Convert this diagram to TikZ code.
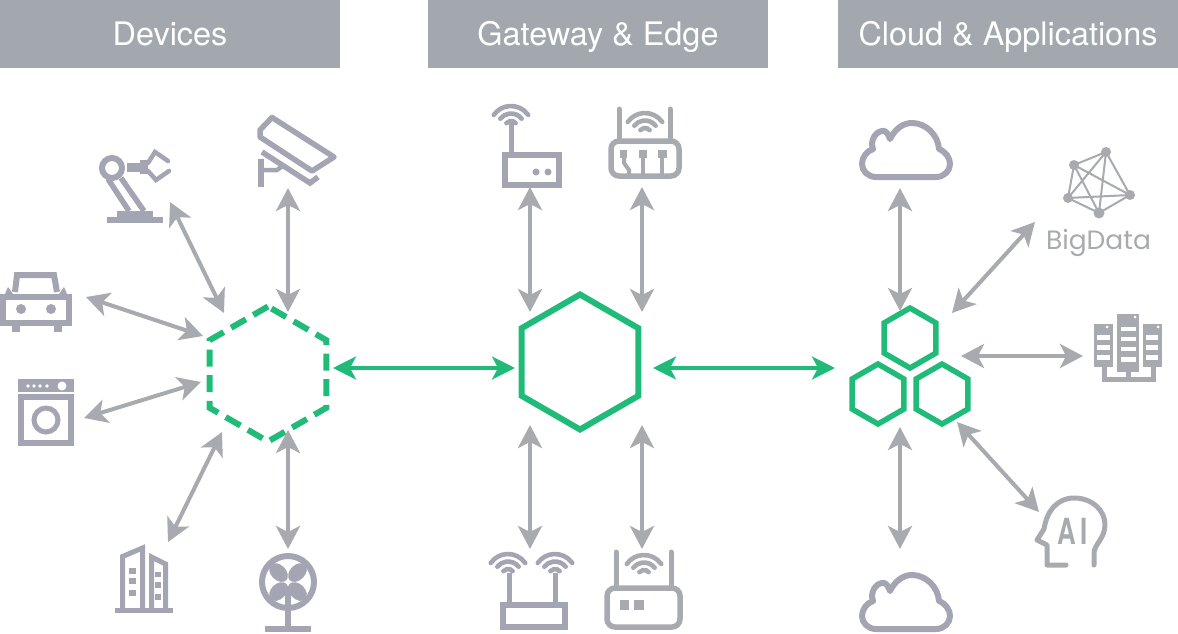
\documentclass[tikz,border=0pt]{standalone}
\usepackage{fontspec}
\setmainfont{TeX Gyre Heros}
\newfontfamily\labelfont{Poppins}
\usetikzlibrary{arrows.meta,shapes.geometric}
\definecolor{barGrey}{HTML}{A2A8AE}
\definecolor{iconBlue}{HTML}{A3A5B2}
\definecolor{iconGrey}{HTML}{A7ABAF}
\definecolor{hexGreen}{HTML}{20BB78}
\tikzset{
	header/.style={fill=barGrey, text=white, inner sep=0pt, outer sep=0pt, minimum height=68pt, text height=26pt, text depth=2pt, font=\fontsize{32.4}{36}\selectfont},
	hexnode/.style={regular polygon, regular polygon sides=6, shape border rotate=30, draw=hexGreen, inner sep=0pt, outer sep=0pt, miter limit=4},
	biarrow/.style={draw=iconGrey, line width=4pt, {Stealth[length=23pt,width=24pt,inset=6pt]}-{Stealth[length=23pt,width=24pt,inset=6pt]}},
	greenarrow/.style={draw=hexGreen, line width=3.6pt, {Stealth[length=23pt,width=23pt,inset=6pt]}-{Stealth[length=23pt,width=23pt,inset=6pt]}},
	blueline/.style={draw=iconBlue, line width=#1},
	blueline/.default=5pt,
	greyline/.style={draw=iconGrey, line width=#1},
	greyline/.default=5pt,
	wave/.style={line width=4.6pt, line cap=round},
	slot/.style={fill=white, draw=none}
}
% wifi waves, centre point and colour
\newcommand{\wifiwaves}[3]{
	\draw[wave, draw=#3] (#1, #2) ++(35:21 and -21) arc[start angle=-35, end angle=-145, radius=21];
	\draw[wave, draw=#3] (#1, #2) ++(38:13.5 and -13.5) arc[start angle=-38, end angle=-142, radius=13.5];
	\draw[wave, draw=#3] (#1, #2) ++(40:6 and -6) arc[start angle=-40, end angle=-140, radius=6];
}
% cloud outline, shifted downwards by the argument
\newcommand{\cloudicon}[1]{
	\draw[blueline=6pt, line join=round, yshift=-#1pt] (876,177) .. controls (868,177) and (862,171) .. (862,164)
		.. controls (862,157) and (867,151) .. (873,149)
		.. controls (870,141) and (875,132) .. (882,131)
		.. controls (885,130) and (888,133) .. (890,139)
		.. controls (895,129) and (903,123) .. (912,123)
		.. controls (926,123) and (938,135) .. (939,149)
		.. controls (946,152) and (950,158) .. (950,164)
		.. controls (950,171) and (944,177) .. (936,177) -- cycle;
}
\begin{document}
\begin{tikzpicture}[x=1pt, y=-1pt]
	\useasboundingbox (0, 0) rectangle (1178, 634);

	% Headers
	\node[header, minimum width=340pt] (devices) at (170, 34) {Devices};
	\node[header, minimum width=340pt] (gateway) at (598, 34) {Gateway \& Edge};
	\node[header, minimum width=340pt] (cloud) at (1008, 34) {Cloud \& Applications};

	% Hexagons
	\node[hexnode, line width=6pt, dashed, dash pattern=on 17pt off 8.6pt, minimum size=135pt] (hexDevice) at (268, 374) {};
	\node[hexnode, line width=6pt, minimum size=135pt] (hexGate) at (580, 362) {};
	\node[hexnode, line width=5.5pt, minimum size=60pt] (hexTop) at (910, 338) {};
	\node[hexnode, line width=5.5pt, minimum size=60pt] (hexLeft) at (878, 394) {};
	\node[hexnode, line width=5.5pt, minimum size=60pt] (hexRight) at (942, 394) {};

	% Arrow ends
	\coordinate (robotA) at (170, 202);
	\coordinate (robotB) at (224, 313);
	\coordinate (cameraA) at (288, 188);
	\coordinate (cameraB) at (288, 312);
	\coordinate (carA) at (86, 297);
	\coordinate (carB) at (203, 336);
	\coordinate (washerA) at (84, 418);
	\coordinate (washerB) at (201, 382);
	\coordinate (buildingA) at (168, 542);
	\coordinate (buildingB) at (222, 432);
	\coordinate (fanA) at (288, 549);
	\coordinate (fanB) at (288, 430);
	\coordinate (linkA) at (333, 368);
	\coordinate (linkB) at (515, 368);
	\coordinate (linkC) at (653, 368);
	\coordinate (linkD) at (835, 368);
	\coordinate (routerA) at (530, 187);
	\coordinate (routerB) at (530, 312);
	\coordinate (switchA) at (642, 187);
	\coordinate (switchB) at (642, 312);
	\coordinate (dualA) at (530, 549);
	\coordinate (dualB) at (530, 425);
	\coordinate (modemA) at (642, 549);
	\coordinate (modemB) at (642, 425);
	\coordinate (cloudA) at (900, 188);
	\coordinate (cloudB) at (900, 311);
	\coordinate (dataA) at (1035, 222);
	\coordinate (dataB) at (952, 313);
	\coordinate (serverA) at (1083, 356);
	\coordinate (serverB) at (961, 356);
	\coordinate (aiA) at (1039, 512);
	\coordinate (aiB) at (957, 422);
	\coordinate (lowerA) at (900, 549);
	\coordinate (lowerB) at (900, 427);

	% Arrows
	\draw[biarrow] (robotA) -- (robotB);
	\draw[biarrow] (cameraA) -- (cameraB);
	\draw[biarrow] (carA) -- (carB);
	\draw[biarrow] (washerA) -- (washerB);
	\draw[biarrow] (buildingA) -- (buildingB);
	\draw[biarrow] (fanA) -- (fanB);
	\draw[biarrow] (routerA) -- (routerB);
	\draw[biarrow] (switchA) -- (switchB);
	\draw[biarrow] (dualA) -- (dualB);
	\draw[biarrow] (modemA) -- (modemB);
	\draw[biarrow] (cloudA) -- (cloudB);
	\draw[biarrow] (dataA) -- (dataB);
	\draw[biarrow] (serverA) -- (serverB);
	\draw[biarrow] (aiA) -- (aiB);
	\draw[biarrow] (lowerA) -- (lowerB);
	\draw[greenarrow] (linkA) -- (linkB);
	\draw[greenarrow] (linkC) -- (linkD);

	% Robot arm
	\fill[iconBlue] (107, 217) rectangle (163, 223);
	\fill[iconBlue] (117, 211) rectangle (153, 217);
	\draw[blueline=6pt] (112, 168) circle[radius=10];
	\draw[blueline=5.5pt] (108, 179) -- (129, 211);
	\draw[blueline=5.5pt] (121, 178) -- (144, 211);
	\fill[iconBlue] (127, 163) rectangle (140, 172);
	\fill[iconBlue] (140, 160) rectangle (148, 174);
	\draw[blueline=4.5pt, line cap=round] (148, 163) -- (155, 152) -- (168, 161);
	\draw[blueline=4.5pt, line cap=round] (148, 171) -- (156, 180) -- (169, 171);

	% Camera
	\draw[blueline=5.5pt, line join=round] (272, 117.5) -- (334, 157) -- (312, 171) -- (260, 137) -- (260, 130) -- cycle;
	\draw[blueline=5.5pt] (262, 152) -- (310, 183) -- (318, 177);
	\draw[blueline=6pt] (261, 159) -- (261, 187);
	\draw[blueline=4.5pt] (261, 170) -- (277, 170) -- (284, 165);

	% Car
	\draw[blueline=6pt] (15, 292) -- (17, 275) -- (54, 275) -- (57, 292);
	\draw[blueline=6pt] (3, 297) rectangle (69, 323);
	\fill[iconBlue] (5, 294) -- (8, 287) -- (13, 294) -- cycle;
	\fill[iconBlue] (59, 294) -- (64, 287) -- (67, 294) -- cycle;
	\fill[iconBlue] (21, 309) circle[radius=5];
	\fill[iconBlue] (51, 309) circle[radius=5];
	\fill[iconBlue] (12, 326) rectangle (20, 332);
	\fill[iconBlue] (54, 326) rectangle (62, 332);

	% Washing machine
	\fill[iconBlue] (18, 379) rectangle (74, 392);
	\draw[blueline=6pt] (21, 397) rectangle (71, 443);
	\draw[blueline] (46, 420) circle[radius=12];
	\fill[slot] (28, 386) circle[radius=1.8];
	\fill[slot] (34, 386) circle[radius=1.8];
	\fill[slot] (40, 386) circle[radius=1.8];
	\fill[slot] (47, 386) circle[radius=1.8];
	\fill[slot] (62, 386) circle[radius=4.5];

	% Building
	\fill[iconBlue] (115, 608) rectangle (173, 613);
	\draw[blueline] (122.5, 608) -- (122.5, 556.5) -- (142.5, 548) -- (142.5, 608);
	\draw[blueline] (151.5, 608) -- (151.5, 557) -- (165.5, 564) -- (165.5, 608);
	\fill[iconBlue] (129, 568) rectangle (136, 574);
	\fill[iconBlue] (129, 578) rectangle (136, 584);
	\fill[iconBlue] (129, 590) rectangle (136, 596);
	\fill[iconBlue] (155, 572) rectangle (161, 577);
	\fill[iconBlue] (155, 582) rectangle (161, 588);
	\fill[iconBlue] (155, 594) rectangle (161, 600);

	% Fan
	\draw[blueline=6pt] (288, 582) circle[radius=26];
	\fill[iconBlue] (297.5, 572.5) ellipse[x radius=11, y radius=7.5, rotate=45];
	\fill[iconBlue] (278.5, 572.5) ellipse[x radius=11, y radius=7.5, rotate=-45];
	\fill[iconBlue] (297.5, 591.5) ellipse[x radius=11, y radius=7.5, rotate=-45];
	\fill[iconBlue] (278.5, 591.5) ellipse[x radius=11, y radius=7.5, rotate=45];
	\draw[blueline=6pt] (288, 586) -- (288, 628);
	\fill[iconBlue] (265, 626) rectangle (311, 632);

	% Gateway icons
	\draw[blueline=6pt] (505, 155) rectangle (559, 185);
	\draw[blueline] (511, 123) -- (511, 152);
	\fill[iconBlue] (536, 172) circle[radius=3.5];
	\fill[iconBlue] (548, 172) circle[radius=3.5];
	\wifiwaves{511}{127}{iconBlue}

	\draw[greyline=5.5pt, rounded corners=8pt] (611, 141) rectangle (679, 176);
	\draw[greyline, line cap=round] (619, 109) -- (619, 138);
	\draw[greyline, line cap=round] (670, 109) -- (670, 138);
	\wifiwaves{645}{134}{iconGrey}
	\fill[iconGrey] (620, 150) rectangle (627, 158);
	\fill[iconGrey] (639, 150) rectangle (647, 158);
	\fill[iconGrey] (658, 150) rectangle (667, 158);
	\draw[greyline=4pt] (624, 158) -- (624, 163) -- (629, 170) -- (629, 176);
	\draw[greyline=4pt] (643, 158) -- (643, 176);
	\draw[greyline=4pt] (662, 158) -- (662, 176);

	\draw[blueline=6pt] (503, 605) rectangle (565, 627);
	\draw[blueline] (509, 573) -- (509, 602);
	\draw[blueline] (555, 573) -- (555, 602);
	\wifiwaves{508}{575}{iconBlue}
	\wifiwaves{555}{575}{iconBlue}

	\draw[greyline=5.5pt, rounded corners=8pt] (607, 588) rectangle (680, 627);
	\draw[greyline, line cap=round] (616, 552) -- (616, 585);
	\draw[greyline, line cap=round] (671, 552) -- (671, 585);
	\wifiwaves{644}{576}{iconGrey}
	\fill[iconGrey] (620, 600) rectangle (629, 610);
	\fill[iconGrey] (634, 600) rectangle (644, 610);

	% Clouds
	\cloudicon{0}
	\cloudicon{452}

	% Big data graph
	\coordinate (dotA) at (1074, 165);
	\coordinate (dotB) at (1106, 152);
	\coordinate (dotC) at (1130, 195);
	\coordinate (dotD) at (1099, 213);
	\coordinate (dotE) at (1068, 198);
	\draw[greyline=2pt] (dotA) -- (dotB) -- (dotC) -- (dotD) -- (dotE) -- cycle;
	\draw[greyline=2pt] (dotA) -- (dotC) -- (dotE) -- (dotB) -- (dotD) -- (dotA);
	\fill[iconGrey] (dotA) circle[radius=5];
	\fill[iconGrey] (dotB) circle[radius=5];
	\fill[iconGrey] (dotC) circle[radius=5];
	\fill[iconGrey] (dotD) circle[radius=5.5];
	\fill[iconGrey] (dotE) circle[radius=5];
	\node[text=iconGrey, inner sep=0pt, anchor=base, font=\labelfont\fontsize{26.5}{30}\selectfont] (bigdata) at (1098.5, 249) {BigData};

	% Server rack
	\fill[iconGrey] (1094, 324) rectangle (1113, 367);
	\fill[iconGrey] (1117, 314) rectangle (1139, 372);
	\fill[iconGrey] (1143, 324) rectangle (1162, 367);
	\draw[greyline] (1104, 367) -- (1104, 379) -- (1153, 379) -- (1153, 367);
	\draw[greyline] (1128, 372) -- (1128, 379);
	\fill[slot] (1097, 335) rectangle (1110, 340);
	\fill[slot] (1097, 345) rectangle (1110, 350);
	\fill[slot] (1097, 355) rectangle (1110, 360);
	\fill[slot] (1121, 327) rectangle (1136, 331);
	\fill[slot] (1121, 337) rectangle (1136, 341);
	\fill[slot] (1121, 347) rectangle (1136, 351);
	\fill[slot] (1121, 357) rectangle (1136, 362);
	\fill[slot] (1146, 335) rectangle (1158, 340);
	\fill[slot] (1146, 345) rectangle (1158, 350);
	\fill[slot] (1146, 355) rectangle (1158, 360);
	\fill[slot] (1107, 327) circle[radius=1.5];
	\fill[slot] (1135, 317) circle[radius=1.5];
	\fill[slot] (1158, 327) circle[radius=1.5];

	% Head
	\draw[greyline, line cap=round, line join=round] (1066, 565) -- (1047, 565) -- (1047, 545) -- (1037, 540) -- (1044, 529)
		.. controls (1047, 510) and (1058, 498) .. (1074, 498)
		.. controls (1092, 498) and (1105, 510) .. (1105, 525)
		.. controls (1105, 538) and (1094, 545) .. (1094, 553) -- (1094, 565);
	\node[text=iconGrey, inner sep=0pt, xscale=.72, anchor=base, font=\bfseries\fontsize{36}{40}\selectfont] (headlabel) at (1073, 544) {A\kern6pt I};
\end{tikzpicture}
\end{document}
